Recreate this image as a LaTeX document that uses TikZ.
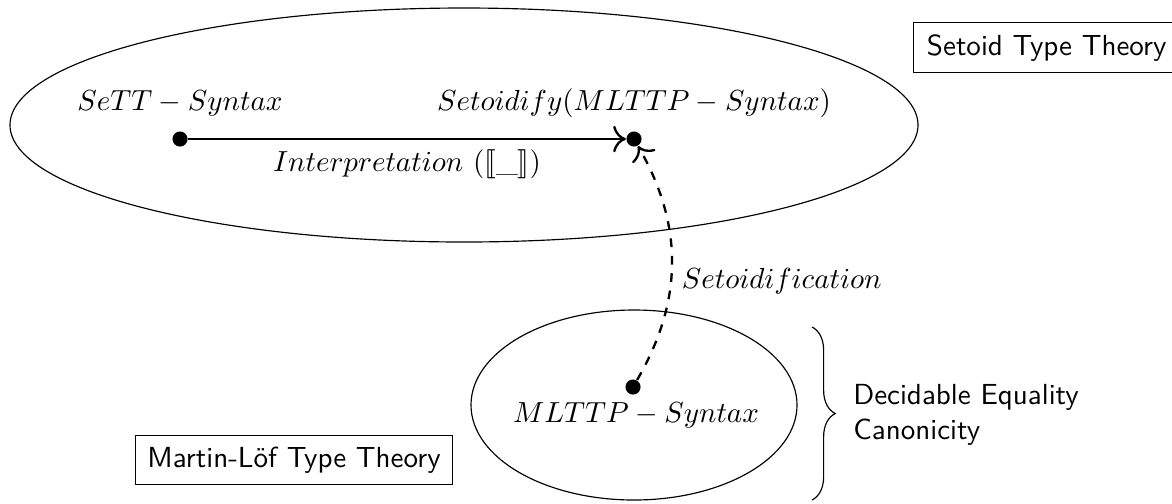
\documentclass[tikz,border=0pt]{standalone}
\usepackage{amsmath}
\usepackage{stmaryrd}
\usetikzlibrary{decorations.pathreplacing,arrows.meta}
\tikzset{
  dot/.style={circle,fill,inner sep=0pt,minimum size=5.2pt},
  theory/.style={draw,font=\sffamily,inner sep=4pt},
  fleche/.style={thick,-{To[scale=1.3]}},
}
\begin{document}
\begin{tikzpicture}  % ------ Setoides et theorie des types --------
      [x=0.0121cm,y=-0.0121cm]
    \useasboundingbox (0,0) rectangle (1172,503);
    % la theorie des setoides
    \draw (464,125) ellipse [x radius=454, y radius=117] ;
    \node[dot] (sett) at (180,139) {};
    \node[dot] (setfy) at (634,139) {};
    \node (settname) at (180,103) {$SeTT - Syntax$};
    \node (setfyname) at (634,103) {$Setoidify(MLTTP - Syntax)$};
    \draw[fleche] (sett) -- node[below] (interp) {$Interpretation\ (\llbracket \_ \rrbracket)$} (setfy) ;
    \node[theory,inner xsep=4.6pt,anchor=north west] (stt) at (913,22) {Setoid Type Theory};
    % la theorie de Martin-Lof
    \draw (634,405) ellipse [x radius=163, y radius=95] ;
    \node[dot] (mlttp) at (633,387) {};
    \node (mlttpname) at (636,415) {$MLTTP - Syntax$};
    \draw[fleche,dashed] (mlttp) to[bend right=30] node[pos=.42,right] (setfn) {$Setoidification$} (setfy) ;
    \node[theory] (mltt) at (294,460) {Martin-L\"of Type Theory};
    % proprietes
    \draw[decorate,decoration={brace,amplitude=8pt}] (812,327) -- (812,500) ;
    \node[anchor=west,align=left,font=\sffamily] (props) at (843,415) {Decidable Equality\\Canonicity};
\end{tikzpicture}
\end{document}
